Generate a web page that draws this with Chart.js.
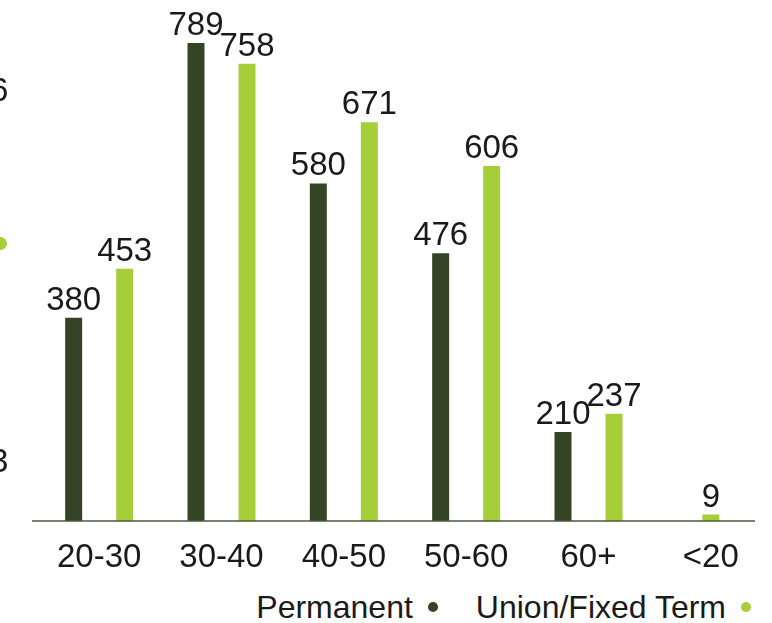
<!DOCTYPE html>
<html>
<head>
<meta charset="utf-8">
<script src="https://cdn.jsdelivr.net/npm/chart.js@4/dist/chart.umd.min.js"></script>
<style>
    html, body { margin: 0; padding: 0; background: #fff; }
    body { width: 772px; height: 623px; overflow: hidden; font-family: "Liberation Sans", Arial, sans-serif; color: #1a1a1a; }
    #wrap { position: relative; width: 772px; height: 623px; overflow: hidden; }
    #chart-box { position: absolute; left: 0; top: 0; width: 772px; height: 582px; }
    #legend { position: absolute; right: 21px; top: 587px; display: flex; align-items: center; font-size: 32px; line-height: 40px; }
    .legend-item { display: flex; align-items: center; margin-left: 38px; }
    .legend-item:first-child { margin-left: 0; }
    .legend-dot { width: 10px; height: 10px; border-radius: 50%; margin-left: 15px; }
    .edge { position: absolute; font-size: 33px; line-height: 1; }
    .edge-dot { position: absolute; width: 13px; height: 13px; border-radius: 50%; background: #a6ce39; }
</style>
</head>
<body>
<div id="wrap">
    <div id="chart-box"><canvas id="age-chart"></canvas></div>
    <div id="legend"></div>
    <!-- bits of the neighbouring chart cut off at the left edge -->
    <span class="edge" style="left:-10px; top:73px;">6</span>
    <span class="edge-dot" style="left:-6px; top:237px;"></span>
    <span class="edge" style="left:-10px; top:444px;">3</span>
</div>
<script>
const ageGroups = ['20-30', '30-40', '40-50', '50-60', '60+', '<20'];
const permanent = [380, 789, 580, 476, 210, null];
const unionFixedTerm = [453, 758, 671, 606, 237, 9];

const darkGreen = '#344424';
const lightGreen = '#a6ce39';
const textColor = '#1a1a1a';

document.addEventListener('DOMContentLoaded', () => {
    const ctx = document.getElementById('age-chart');

    // value labels above each bar
    const barLabels = {
        id: 'barLabels',
        afterDatasetsDraw(chart) {
            const c = chart.ctx;
            c.save();
            c.font = '33px "Liberation Sans", Arial, sans-serif';
            c.fillStyle = textColor;
            c.textAlign = 'center';
            c.textBaseline = 'alphabetic';
            chart.data.datasets.forEach((ds, i) => {
                const meta = chart.getDatasetMeta(i);
                meta.data.forEach((bar, j) => {
                    const v = ds.data[j];
                    if (v === null || v === undefined) return;
                    c.fillText(String(v), bar.x, bar.y - 8);
                });
            });
            c.restore();
        }
    };

    // baseline under the bars
    const baseLine = {
        id: 'baseLine',
        afterDatasetsDraw(chart) {
            const {ctx: c, chartArea} = chart;
            c.save();
            c.strokeStyle = '#4b5a3c';
            c.lineWidth = 1.5;
            c.beginPath();
            c.moveTo(chartArea.left - 6, chartArea.bottom);
            c.lineTo(chartArea.right - 17, chartArea.bottom);
            c.stroke();
            c.restore();
        }
    };

    const chart = new Chart(ctx, {
        type: 'bar',
        data: {
            labels: ageGroups,
            datasets: [
                {
                    label: 'Permanent',
                    data: permanent,
                    backgroundColor: darkGreen,
                    skipNull: true,
                    clip: 0
                },
                {
                    label: 'Union/Fixed Term',
                    data: unionFixedTerm,
                    backgroundColor: lightGreen,
                    skipNull: true,
                    minBarLength: 6.5,
                    clip: 0
                }
            ]
        },
        options: {
            responsive: true,
            maintainAspectRatio: false,
            animation: false,
            categoryPercentage: 0.834,
            barPercentage: 0.333,
            maxBarThickness: 17,
            layout: { padding: { left: 38, right: 0, top: 0, bottom: 0 } },
            plugins: {
                legend: { display: false },
                tooltip: { enabled: false }
            },
            scales: {
                x: {
                    grid: { display: false },
                    border: { display: false },
                    ticks: {
                        color: textColor,
                        padding: 9,
                        font: { family: '"Liberation Sans", Arial, sans-serif', size: 33 }
                    },
                    afterFit: (scale) => { scale.height = 61; }
                },
                y: {
                    display: false,
                    beginAtZero: false,
                    min: 77.5,
                    max: 853
                }
            }
        },
        plugins: [barLabels, baseLine]
    });

    // legend with the dot after the text
    const legend = document.getElementById('legend');
    chart.data.datasets.forEach(ds => {
        const item = document.createElement('div');
        item.className = 'legend-item';
        item.innerHTML = `<span>${ds.label}</span><span class="legend-dot" style="background:${ds.backgroundColor}"></span>`;
        legend.appendChild(item);
    });
});
</script>
</body>
</html>
